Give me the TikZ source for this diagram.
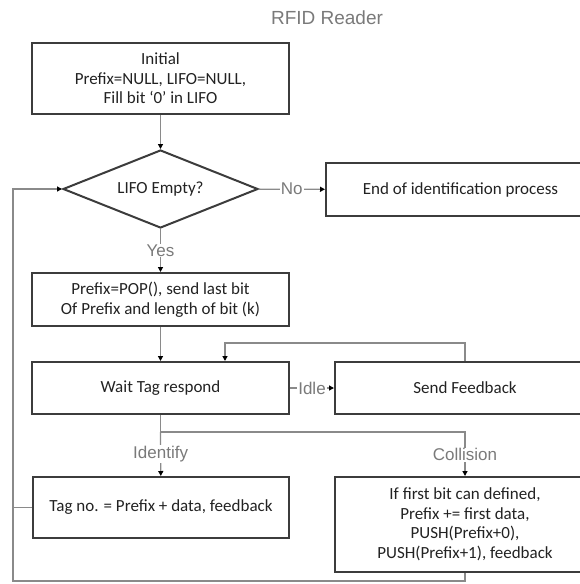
\documentclass[tikz,border=0pt]{standalone}
\usepackage{fontspec}
\setmainfont{Carlito}
\newfontfamily\arialfont{Liberation Sans}
\usepackage{xcolor}
\usepackage{tikz}
\usetikzlibrary{arrows.meta}
\usetikzlibrary{shapes.geometric}

\definecolor{BoxLine}{HTML}{3C3C3C}
\definecolor{WireGray}{HTML}{8A8A8A}
\definecolor{LabelGray}{HTML}{7A7A7A}
\definecolor{Ink}{HTML}{222222}

\tikzset{
  box/.style={draw=BoxLine, line width=2pt, rectangle, align=center, text=Ink,
              font=\fontsize{17}{19.5}\selectfont, inner sep=2pt},
  decision/.style={draw=BoxLine, line width=2pt, diamond, aspect=2.5, inner sep=0pt,
                   minimum width=195pt, minimum height=78pt, text=Ink,
                   font=\fontsize{17}{19.5}\selectfont},
  wire/.style={draw=WireGray, line width=1.3pt},
  flow/.style={wire, -{Triangle[length=5pt, width=5pt, color=black]}},
  lbl/.style={fill=white, inner sep=1pt, text=LabelGray, font=\arialfont\fontsize{17}{19}\selectfont}
}

\begin{document}
\begin{tikzpicture}[x=1pt, y=-1pt]
  \useasboundingbox (0,0) rectangle (580,584);
  \clip (0,0) rectangle (580,584);

  \node[text=LabelGray, font=\arialfont\fontsize{19}{22}\selectfont] (title) at (327,18) {RFID Reader};

  \node[box, minimum width=257pt, minimum height=71pt] (init) at (160.5,78.5)
        {Initial\\Prefix=NULL, LIFO=NULL,\\Fill bit `0' in LIFO};
  \node[decision] (empty) at (160.5,189) {LIFO Empty?};
  \node[box, minimum width=269pt, minimum height=53pt] (finish) at (460.5,189.5)
        {End of identification process};
  \node[box, minimum width=257pt, minimum height=53pt] (pop) at (160.5,299.5)
        {Prefix=POP(), send last bit\\Of Prefix and length of bit (k)};
  \node[box, minimum width=257pt, minimum height=52pt] (wait) at (160.5,388) {Wait Tag respond};
  \node[box, minimum width=260pt, minimum height=52pt] (send) at (465,388) {Send Feedback};
  \node[box, minimum width=256pt, minimum height=61pt] (tag) at (161,507.5)
        {Tag no. = Prefix + data, feedback};
  \node[box, minimum width=260pt, minimum height=95pt] (coll) at (465,524.5)
        {If first bit can defined,\\Prefix += first data,\\PUSH(Prefix+0),\\PUSH(Prefix+1), feedback};

  \coordinate (fbk) at (225,343);
  \coordinate (split) at (160.5,432);
  \coordinate (loop) at (13,581);

  \draw[flow] (init) -- (empty);
  \draw[flow] (empty) -- node[lbl] {No} (finish);
  \draw[flow] (empty) -- node[lbl] {Yes} (pop);
  \draw[flow] (pop) -- (wait);
  \draw[flow] (wait) -- node[lbl] {Idle} (send);
  \draw[flow] (send.north) |- (fbk) -- (fbk |- wait.north);
  \draw[wire] (wait) -- (split);
  \draw[flow] (split) -- node[lbl] {Identify} (tag);
  \draw[flow] (split) -| node[lbl, pos=0.76] {Collision} (coll.north);
  \draw[flow] (coll.south) |- (loop) |- (empty.west);
  \draw[wire] (tag.west) -- (tag.west -| loop);
\end{tikzpicture}
\end{document}
